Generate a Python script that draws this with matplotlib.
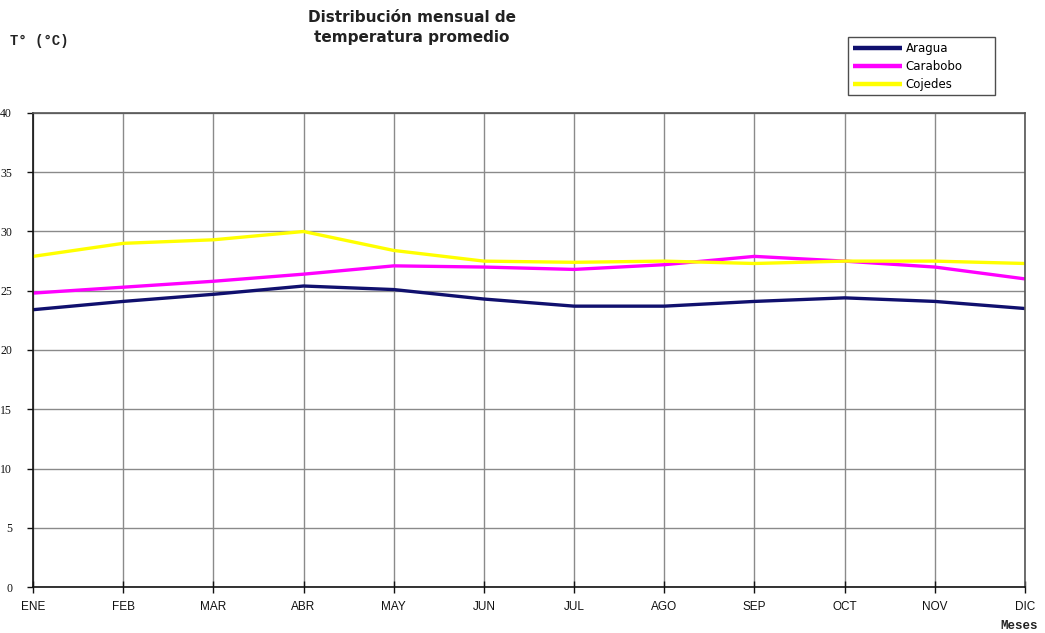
import matplotlib
matplotlib.use("Agg")
import matplotlib.pyplot as plt
from matplotlib.ticker import MultipleLocator

# Monthly mean temperature (°C) per state
meses = ["ENE", "FEB", "MAR", "ABR", "MAY", "JUN", "JUL", "AGO", "SEP", "OCT", "NOV", "DIC"]
aragua = [23.4, 24.1, 24.7, 25.4, 25.1, 24.3, 23.7, 23.7, 24.1, 24.4, 24.1, 23.5]
carabobo = [24.8, 25.3, 25.8, 26.4, 27.1, 27.0, 26.8, 27.2, 27.9, 27.5, 27.0, 26.0]
cojedes = [27.9, 29.0, 29.3, 30.0, 28.4, 27.5, 27.4, 27.5, 27.3, 27.5, 27.5, 27.3]

series = [("Aragua", aragua, "#10106e"),
          ("Carabobo", carabobo, "#ff00ff"),
          ("Cojedes", cojedes, "#ffff00")]

W, H = 1045, 633
fig = plt.figure(figsize=(W / 100, H / 100), dpi=100)
fig.patch.set_facecolor("white")

left, right, bottom, top = 33, 1025, 587, 113
ax = fig.add_axes([left / W, 1 - bottom / H, (right - left) / W, (bottom - top) / H])

x = list(range(len(meses)))
for name, vals, color in series:
    ax.plot(x, vals, color=color, lw=2.4, label=name, solid_capstyle="butt",
            solid_joinstyle="round")

ax.set_xlim(0, len(meses) - 1)
ax.set_ylim(0, 40)
ax.yaxis.set_major_locator(MultipleLocator(5))
ax.set_xticks(x)
ax.set_xticklabels(meses, fontsize=8.5, family="Liberation Sans")
ax.set_yticks(range(0, 41, 5))
ax.set_yticklabels([str(v) for v in range(0, 41, 5)], fontsize=8.5,
                   family="Liberation Serif")

ax.grid(True, color="#8a8a8a", lw=1.0)
ax.set_axisbelow(True)
for side in ["left", "bottom"]:
    ax.spines[side].set_color("#111111")
    ax.spines[side].set_linewidth(1.2)
for side in ["top", "right"]:
    ax.spines[side].set_color("#555555")
    ax.spines[side].set_linewidth(1.2)

ax.tick_params(axis="y", direction="out", length=4, width=1, pad=11, colors="#111111")
ax.tick_params(axis="x", direction="inout", length=8, width=1, pad=6, colors="#111111")

# Title and axis captions
fig.text(412 / W, 1 - 10 / H, "Distribución mensual de\ntemperatura promedio",
         ha="center", va="top", fontsize=11, fontweight="bold",
         family="DejaVu Sans", color="#222222", linespacing=1.45)
fig.text(10 / W, 1 - 41 / H, "T° (°C)", ha="left", va="center", fontsize=10,
         fontweight="bold", family="Liberation Mono", color="#222222")
fig.text(1000 / W, 1 - 632 / H, "Meses", ha="left", va="bottom", fontsize=9,
         fontweight="bold", family="Liberation Mono", color="#222222")

leg = fig.legend(loc="upper left",
                 bbox_to_anchor=(848 / W, 1 - 95 / H, 147 / W, 58 / H),
                 mode="expand", frameon=True, fancybox=False, handlelength=4.2,
                 handletextpad=0.3, labelspacing=0.42, borderpad=0.4,
                 borderaxespad=0, prop={"family": "DejaVu Sans", "size": 8.5})
leg.get_frame().set_edgecolor("#222222")
leg.get_frame().set_linewidth(1.0)
for line in leg.get_lines():
    line.set_linewidth(3.2)

fig.savefig("out.png", dpi=100, facecolor="white")
